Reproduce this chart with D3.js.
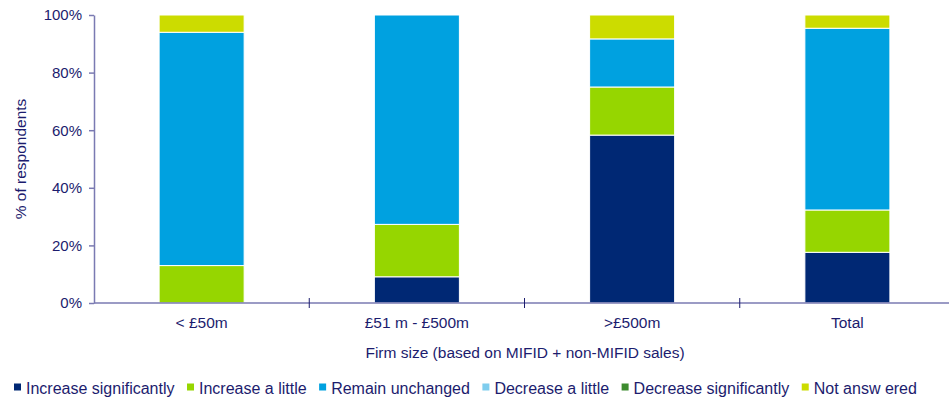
<!DOCTYPE html>
<html>
<head>
<meta charset="utf-8">
<script src="https://cdn.jsdelivr.net/npm/d3@7"></script>
<style>
  html, body { margin: 0; padding: 0; background: #fff; }
  svg { display: block; font-family: "Liberation Sans", Arial, sans-serif; }
</style>
</head>
<body>
<svg id="chart" width="949" height="398"></svg>
<script>
// Firm-size categories
const categories = ["< £50m", "£51 m - £500m", ">£500m", "Total"];

// Response series (% of respondents per category)
const seriesNames = ["Increase significantly", "Increase a little", "Remain unchanged",
                     "Decrease a little", "Decrease significantly", "Not answ ered"];
const increaseSignificantly = [0, 9.1, 58.3, 17.6];
const increaseALittle       = [13, 18.2, 16.7, 14.7];
const remainUnchanged       = [81, 72.7, 16.7, 63.1];
const decreaseALittle       = [0, 0, 0, 0];
const decreaseSignificantly = [0, 0, 0, 0];
const notAnswered           = [6, 0, 8.3, 4.6];

const yTicks = [0, 20, 40, 60, 80, 100];
const seriesColors = ["#002874", "#96d600", "#00a1e0", "#7fcdee", "#3d8b2f", "#ccdc00"];

const allSeries = [increaseSignificantly, increaseALittle, remainUnchanged,
                   decreaseALittle, decreaseSignificantly, notAnswered];

const rows = categories.map((c, i) => {
  const r = { category: c };
  seriesNames.forEach((s, k) => { r[s] = allSeries[k][i]; });
  return r;
});

const svg = d3.select("#chart");
const axisColor = "#7a7ab2";
const textColor = "#1c1c6e";

const x = d3.scaleBand().domain(categories).range([94, 955]).paddingInner(0.605).paddingOuter(0.3025);
const xBands = d3.scaleBand().domain(categories).range([94, 955]);
const y = d3.scaleLinear().domain([0, 100]).range([303, 15]);

const stacked = d3.stack().keys(seriesNames)(rows);

// Stacked bars
svg.append("g").selectAll("g")
  .data(stacked)
  .join("g")
  .attr("fill", (d, i) => seriesColors[i])
  .selectAll("rect")
  .data(d => d.filter(p => p[1] - p[0] > 0))
  .join("rect")
  .attr("x", d => x(d.data.category))
  .attr("width", x.bandwidth())
  .attr("y", d => y(d[1]))
  .attr("height", d => y(d[0]) - y(d[1]))
  .attr("stroke", "#ffffff")
  .attr("stroke-width", 1);

// Y axis
const yAxis = svg.append("g")
  .attr("transform", "translate(94,0)")
  .call(d3.axisLeft(y).tickValues(yTicks).tickFormat(d => d + "%").tickSize(5).tickSizeOuter(0));
yAxis.select(".domain").attr("stroke", axisColor).attr("stroke-width", 1.5);
yAxis.selectAll(".tick line").attr("stroke", axisColor).attr("stroke-width", 1.5);
yAxis.selectAll(".tick text").attr("fill", textColor).attr("font-size", 15)
  .attr("font-family", "Liberation Sans, Arial, sans-serif").attr("x", -12);

// X axis with ticks at category boundaries
const xAxis = svg.append("g").attr("transform", "translate(0,303)");
xAxis.append("line").attr("x1", 94).attr("x2", 949).attr("y1", 0).attr("y2", 0)
  .attr("stroke", axisColor).attr("stroke-width", 1.5);
xAxis.selectAll("line.bound")
  .data(categories.slice(1))
  .join("line")
  .attr("class", "bound")
  .attr("x1", d => xBands(d)).attr("x2", d => xBands(d))
  .attr("y1", -5).attr("y2", 5)
  .attr("stroke", textColor).attr("stroke-width", 1);
xAxis.selectAll("text")
  .data(categories)
  .join("text")
  .attr("x", d => xBands(d) + xBands.bandwidth() / 2)
  .attr("y", 25)
  .attr("text-anchor", "middle")
  .attr("fill", textColor)
  .attr("font-size", 15.5)
  .text(d => d);

// Axis titles
svg.append("text")
  .attr("x", 525).attr("y", 358)
  .attr("text-anchor", "middle")
  .attr("fill", textColor).attr("font-size", 15.5)
  .text("Firm size (based on MIFID + non-MIFID sales)");

svg.append("text")
  .attr("transform", "translate(26,159) rotate(-90)")
  .attr("text-anchor", "middle")
  .attr("fill", textColor).attr("font-size", 15.5)
  .text("% of respondents");

// Legend
const legend = svg.append("g").attr("transform", "translate(14,394)");
let lx = 0;
seriesNames.forEach((name, i) => {
  const g = legend.append("g").attr("transform", `translate(${lx},0)`);
  g.append("rect").attr("x", 0).attr("y", -10.5).attr("width", 7).attr("height", 7)
    .attr("fill", seriesColors[i]);
  const t = g.append("text").attr("x", 12).attr("y", 0)
    .attr("fill", textColor).attr("font-size", 16).text(name);
  lx += 12 + t.node().getComputedTextLength() + 12.5;
});
</script>
</body>
</html>
